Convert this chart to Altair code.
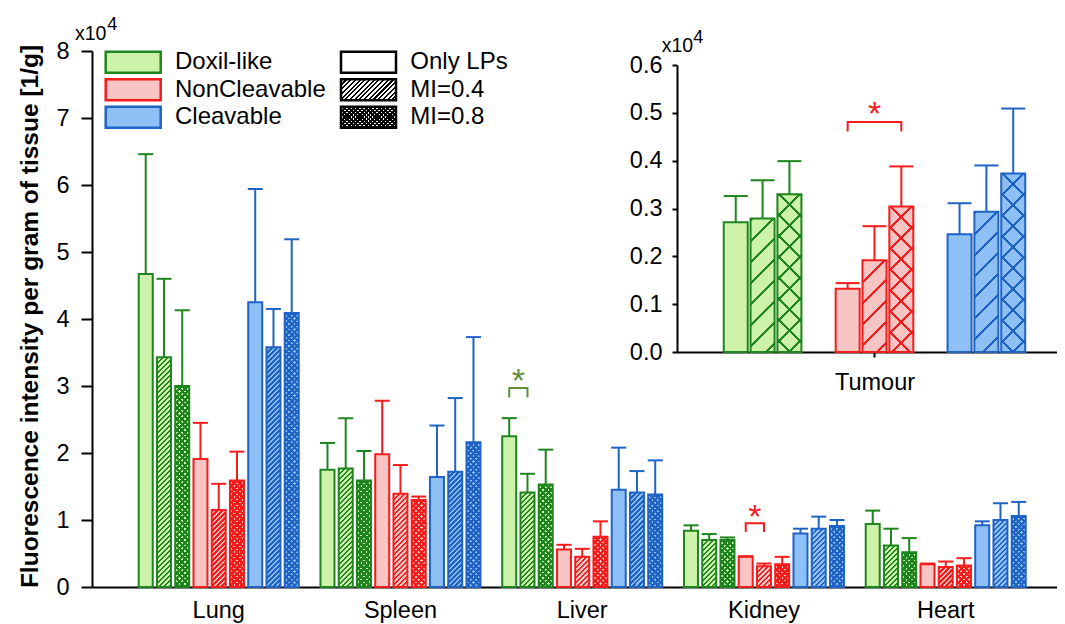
import altair as alt
import pandas as pd

FONT = "Liberation Sans"

# ---------------- data (x10^4 fluorescence per gram) ----------------
organs = ["Lung", "Spleen", "Liver", "Kidney", "Heart"]
formulations = ["Doxil-like", "NonCleavable", "Cleavable"]
mi_levels = ["Only LPs", "MI=0.4", "MI=0.8"]

# order: Doxil-like (LPs, 0.4, 0.8), NonCleavable (...), Cleavable (...)
lung_mean = [4.67, 3.43, 3.00, 1.91, 1.15, 1.59, 4.25, 3.58, 4.09]
lung_sd = [1.79, 1.17, 1.13, 0.54, 0.39, 0.43, 1.69, 0.57, 1.10]
spleen_mean = [1.75, 1.77, 1.59, 1.98, 1.39, 1.30, 1.64, 1.72, 2.16]
spleen_sd = [0.40, 0.75, 0.44, 0.80, 0.43, 0.05, 0.77, 1.10, 1.57]
liver_mean = [2.25, 1.41, 1.53, 0.56, 0.45, 0.75, 1.45, 1.41, 1.38]
liver_sd = [0.27, 0.28, 0.52, 0.07, 0.12, 0.23, 0.63, 0.32, 0.51]
kidney_mean = [0.84, 0.70, 0.70, 0.45, 0.31, 0.34, 0.80, 0.87, 0.91]
kidney_sd = [0.08, 0.09, 0.04, 0.01, 0.04, 0.11, 0.07, 0.18, 0.09]
heart_mean = [0.94, 0.62, 0.52, 0.34, 0.30, 0.32, 0.92, 1.00, 1.06]
heart_sd = [0.20, 0.25, 0.21, 0.01, 0.08, 0.11, 0.06, 0.25, 0.21]
tumour_mean = [0.271, 0.279, 0.330, 0.132, 0.192, 0.304, 0.246, 0.293, 0.373]
tumour_sd = [0.055, 0.080, 0.069, 0.012, 0.071, 0.084, 0.065, 0.097, 0.136]

# significance brackets
sig_organ = ["Liver", "Kidney", "Tumour"]
sig_form = ["Doxil-like", "NonCleavable", "NonCleavable"]
sig_from = ["Only LPs", "Only LPs", "Only LPs"]
sig_to = ["MI=0.4", "MI=0.4", "MI=0.8"]
sig_top = [2.97, 0.95, 0.481]
sig_leg = [2.83, 0.82, 0.461]
sig_star = [3.15, 1.12, 0.508]

# ---------------- styles ----------------
DARK = ["#1e851e", "#f51c1c", "#1f63c6"]
LIGHT = ["#cdf3aa", "#f8c4c4", "#8ebff5"]
SIG_OLIVE = "#5f8f3f"
SIG_RED = "#f51c1c"
CLEAR = "'rgba(0,0,0,0)'"


def map_expr(field, keys, vals, default):
    e = f"'{default}'"
    for k, v in zip(keys, vals):
        e = f"(datum.{field}=='{k}'?'{v}':{e})"
    return e


dark_expr = map_expr("form", formulations, DARK, "black")
light_expr = map_expr("form", formulations, LIGHT, "white")
sig_col_expr = f"datum.organ=='Liver'?'{SIG_OLIVE}':'{SIG_RED}'"


def stripes(direction, w, h, period, frac, M, dark, light):
    """Hatch fill as a hard-stop linear gradient (45 degree lines)."""
    parts = []
    k = 0
    while k * period < M:
        a = k * period / M
        b = min((k + frac) * period / M, 1.0)
        c = min((k + 1) * period / M, 1.0)
        parts += [f"{{offset:{a:.5f},color:{dark}}}", f"{{offset:{b:.5f},color:{dark}}}",
                  f"{{offset:{b:.5f},color:{light}}}", f"{{offset:{c:.5f},color:{light}}}"]
        k += 1
    den = f"({w}*{w}+({h})*({h}))"
    kk = f"{w}*{M}/{den}"
    y2 = f"({h})*{M}/{den}"
    if direction == "fwd":
        x1, x2 = "0", kk
    else:
        x1, x2 = "1", f"1-{kk}"
    return f"{{gradient:'linear',x1:{x1},y1:0,x2:{x2},y2:{y2},stops:[{','.join(parts)}]}}"


def fill_exprs(w, h, p04, f04, p08, f08, M):
    base = (f"datum.mi=='Only LPs'?datum.light:(datum.mi=='MI=0.4'?"
            f"{stripes('fwd', w, h, p04, f04, M, 'datum.dark', 'datum.light')}:"
            f"{stripes('fwd', w, h, p08, f08, M, 'datum.dark', 'datum.light')})")
    over = (f"datum.mi=='MI=0.8'?{stripes('back', w, h, p08, f08, M, 'datum.dark', CLEAR)}:{CLEAR}")
    return base, over


# ---------------- tables ----------------
bar_codes = [f"b{k}" for k in range(9)]


def build(organ, means, sds):
    rows = []
    for k, (m, s) in enumerate(zip(means, sds)):
        fi, mk = divmod(k, 3)
        rows.append({"organ": organ, "form": formulations[fi], "mi": mi_levels[mk],
                     "bar": f"b{k}", "fi": fi, "mk": mk, "value": m, "top": round(m + s, 4)})
    return rows


main_rows = []
for o, m, s in zip(organs, [lung_mean, spleen_mean, liver_mean, kidney_mean, heart_mean],
                   [lung_sd, spleen_sd, liver_sd, kidney_sd, heart_sd]):
    main_rows += build(o, m, s)
main_df = pd.DataFrame(main_rows)
tumour_df = pd.DataFrame(build("Tumour", tumour_mean, tumour_sd))

br_rows, star_rows = [], []
for i, (o, f, a, b, t, l, s) in enumerate(zip(sig_organ, sig_form, sig_from, sig_to,
                                              sig_top, sig_leg, sig_star)):
    fi = formulations.index(f)
    ka = fi * 3 + mi_levels.index(a)
    kb = fi * 3 + mi_levels.index(b)
    for j, (kk, lev) in enumerate([(ka, l), (ka, t), (kb, t), (kb, l)]):
        br_rows.append({"organ": o, "sid": i, "ord": j, "bar": f"b{kk}", "fi": fi,
                        "mk": kk % 3, "level": lev})
    star_rows.append({"organ": o, "sid": i, "bar": f"b{ka}", "fi": fi,
                      "mk": (ka % 3 + kb % 3) / 2, "level": s})
br_df = pd.DataFrame(br_rows)
star_df = pd.DataFrame(star_rows)
br_main = br_df[br_df.organ != "Tumour"]
br_in = br_df[br_df.organ == "Tumour"]
star_main = star_df[star_df.organ != "Tumour"]
star_in = star_df[star_df.organ == "Tumour"]

# ---------------- main chart ----------------
Xm = alt.X("organ:N", sort=organs,
           scale=alt.Scale(domain=organs, paddingInner=0.1197, paddingOuter=0.2146, align=0.599),
           axis=alt.Axis(title=None, ticks=False, tickSize=0, labelAngle=0, labelFontSize=23.5,
                         labelPadding=11, labelColor="black", domainColor="black", domainWidth=2,
                         labelFont=FONT))
XOm = alt.XOffset("bar:N", sort=bar_codes,
                  scale=alt.Scale(domain=bar_codes, paddingInner=0.233, paddingOuter=0))
ym_scale = alt.Scale(domain=[0, 8], nice=False)
ym_axis = alt.Axis(title="Fluorescence intensity per gram of tissue [1/g]", values=list(range(9)),
                   format="d", grid=False, tickSize=11, tickWidth=2, tickColor="black",
                   domainWidth=2, domainColor="black", labelFontSize=23.5, labelPadding=12,
                   labelColor="black", titleFontSize=24.5, titleFontWeight="bold",
                   titleColor="black", titleX=-62, titleY=265, titleAngle=-90,
                   titleAlign="center", titleBaseline="middle", labelFont=FONT, titleFont=FONT)


def Ym(field):
    return alt.Y(f"{field}:Q", scale=ym_scale, axis=ym_axis)


mb, mo = fill_exprs(14, "datum.value*67", 5, 0.5, 5.5, 0.58, 340)

main_base = (alt.Chart(main_df)
             .transform_calculate(dark=dark_expr).transform_calculate(light=light_expr)
             .transform_calculate(g1=mb)
             .mark_bar()
             .encode(x=Xm, xOffset=XOm, y=Ym("value"), fill=alt.Fill("g1:N", scale=None)))
main_over = (alt.Chart(main_df)
             .transform_calculate(dark=dark_expr).transform_calculate(light=light_expr)
             .transform_calculate(g2=mo)
             .mark_bar(strokeWidth=2)
             .encode(x=Xm, xOffset=XOm, y=Ym("value"), fill=alt.Fill("g2:N", scale=None),
                     stroke=alt.Stroke("dark:N", scale=None)))
main_err = (alt.Chart(main_df).transform_calculate(dark=dark_expr)
            .mark_rule(strokeWidth=2)
            .encode(x=Xm, xOffset=XOm, y=Ym("value"), y2="top:Q",
                    stroke=alt.Stroke("dark:N", scale=None)))
main_cap = (alt.Chart(main_df).transform_calculate(dark=dark_expr)
            .mark_tick(thickness=2, size=15, orient="horizontal", opacity=1)
            .encode(x=Xm, xOffset=XOm, y=Ym("top"), color=alt.Color("dark:N", scale=None)))
main_br = (alt.Chart(br_main).transform_calculate(scol=sig_col_expr)
           .mark_line(strokeWidth=2)
           .encode(x=Xm, xOffset=XOm, y=Ym("level"), detail="sid:N", order="ord:Q",
                   stroke=alt.Stroke("scol:N", scale=None)))
main_star = (alt.Chart(star_main).transform_calculate(scol=sig_col_expr)
             .mark_text(text="*", fontSize=34, dx=9.1, dy=6, font=FONT)
             .encode(x=Xm, xOffset=XOm, y=Ym("level"), color=alt.Color("scol:N", scale=None)))
main = alt.layer(main_base, main_over, main_err, main_cap, main_br, main_star)

# ---------------- inset (Tumour) ----------------
GROUP = 4.17
pos_expr = f"datum.fi*{GROUP}+datum.mk"
Xi = alt.X("pos:Q", scale=alt.Scale(domain=[-2.014, 11.785], range=[584.7, 965], nice=False, zero=False),
           axis=alt.Axis(orient="bottom", offset=-235, values=[GROUP + 1], labelExpr="'Tumour'",
                         title=None, grid=False, tickSize=5, tickWidth=2, tickColor="black",
                         domainWidth=2, domainColor="black", labelFontSize=23.5, labelPadding=13,
                         labelColor="black", labelFont=FONT))
yi_scale = alt.Scale(domain=[0, 0.6], range=[301, 14], nice=False)
yi_axis = alt.Axis(orient="left", offset=-585, values=[0, 0.1, 0.2, 0.3, 0.4, 0.5, 0.6],
                   format=".1f", title=None, grid=False, tickSize=5, tickWidth=2,
                   tickColor="black", domainWidth=2, domainColor="black", labelFontSize=23.5,
                   labelPadding=10, labelColor="black", labelFont=FONT)


def Yi(field):
    return alt.Y(f"{field}:Q", scale=yi_scale, axis=yi_axis)


ib, io = fill_exprs(24, "datum.value*478.333", 21, 0.14, 21, 0.14, 220)

in_base = (alt.Chart(tumour_df).transform_calculate(pos=pos_expr)
           .transform_calculate(dark=dark_expr).transform_calculate(light=light_expr)
           .transform_calculate(g1=ib)
           .mark_bar(size=24, orient="vertical")
           .encode(x=Xi, y=Yi("value"), fill=alt.Fill("g1:N", scale=None)))
in_over = (alt.Chart(tumour_df).transform_calculate(pos=pos_expr)
           .transform_calculate(dark=dark_expr).transform_calculate(light=light_expr)
           .transform_calculate(g2=io)
           .mark_bar(size=24, orient="vertical", strokeWidth=2)
           .encode(x=Xi, y=Yi("value"), fill=alt.Fill("g2:N", scale=None),
                   stroke=alt.Stroke("dark:N", scale=None)))
in_err = (alt.Chart(tumour_df).transform_calculate(pos=pos_expr).transform_calculate(dark=dark_expr)
          .mark_rule(strokeWidth=2)
          .encode(x=Xi, y=Yi("value"), y2="top:Q", stroke=alt.Stroke("dark:N", scale=None)))
in_cap = (alt.Chart(tumour_df).transform_calculate(pos=pos_expr).transform_calculate(dark=dark_expr)
          .mark_tick(thickness=2, size=24, orient="horizontal", opacity=1)
          .encode(x=Xi, y=Yi("top"), color=alt.Color("dark:N", scale=None)))
in_br = (alt.Chart(br_in).transform_calculate(pos=pos_expr).transform_calculate(scol=sig_col_expr)
         .mark_line(strokeWidth=2)
         .encode(x=Xi, y=Yi("level"), detail="sid:N", order="ord:Q",
                 stroke=alt.Stroke("scol:N", scale=None)))
in_star = (alt.Chart(star_in).transform_calculate(pos=pos_expr).transform_calculate(scol=sig_col_expr)
           .mark_text(text="*", fontSize=34, dy=6, font=FONT)
           .encode(x=Xi, y=Yi("level"), color=alt.Color("scol:N", scale=None)))
inset = alt.layer(in_base, in_over, in_err, in_cap, in_br, in_star)

# ---------------- legend ----------------
leg_rows = []
for i, f in enumerate(formulations):
    leg_rows.append({"label": f, "col": 0, "row": i, "mi": "Only LPs", "form": f})
for j, m in enumerate(mi_levels):
    leg_rows.append({"label": m, "col": 1, "row": j, "mi": m, "form": "none"})
leg_df = pd.DataFrame(leg_rows)

lb, lo = fill_exprs(55, "21", 4.7, 0.45, 4.3, 0.6, 80)


def leg_chart():
    return (alt.Chart(leg_df)
            .transform_calculate(dark=dark_expr).transform_calculate(light=light_expr)
            .transform_calculate(lx="datum.col*235.3+13.7").transform_calculate(lx2="datum.lx+55")
            .transform_calculate(ly="datum.row*27.5+0.7").transform_calculate(ly2="datum.ly+21")
            .transform_calculate(tx="datum.lx+69.3").transform_calculate(ty="datum.ly+10.5"))


LX = alt.X("lx:Q", scale=None, axis=None)
LY = alt.Y("ly:Q", scale=None, axis=None)
leg_base = (leg_chart().transform_calculate(g1=lb).mark_rect()
            .encode(x=LX, x2="lx2:Q", y=LY, y2="ly2:Q", fill=alt.Fill("g1:N", scale=None)))
leg_over = (leg_chart().transform_calculate(g2=lo).mark_rect(strokeWidth=2.5)
            .encode(x=LX, x2="lx2:Q", y=LY, y2="ly2:Q", fill=alt.Fill("g2:N", scale=None),
                    stroke=alt.Stroke("dark:N", scale=None)))
leg_text = (leg_chart().mark_text(align="left", baseline="middle", fontSize=24, font=FONT, color="black")
            .encode(x=alt.X("tx:Q", scale=None, axis=None), y=alt.Y("ty:Q", scale=None, axis=None),
                    text="label:N"))
legend = alt.layer(leg_base, leg_over, leg_text)


def label_text(txt, x, y, size):
    return (alt.Chart(alt.Data(values=[{}]))
            .mark_text(text=txt, fontSize=size, align="left", baseline="alphabetic", font=FONT, color="black")
            .encode(x=alt.value(x), y=alt.value(y)))


exps = [label_text("x10", -17, -11, 19.5), label_text("4", 15.3, -21, 18),
        label_text("x10", 569.7, 0.7, 19.5), label_text("4", 601.3, -8.3, 18)]

chart = (alt.layer(main, inset, legend, *exps)
         .resolve_scale(x="independent", y="independent")
         .properties(width=965, height=536,
                     padding={"left": 84, "top": 43, "right": 0, "bottom": 37},
                     autosize=alt.AutoSizeParams(type="none"))
         .configure_view(stroke=None)
         .configure_text(font=FONT))

chart.save("out.html", embed_options={"renderer": "svg", "actions": False})
